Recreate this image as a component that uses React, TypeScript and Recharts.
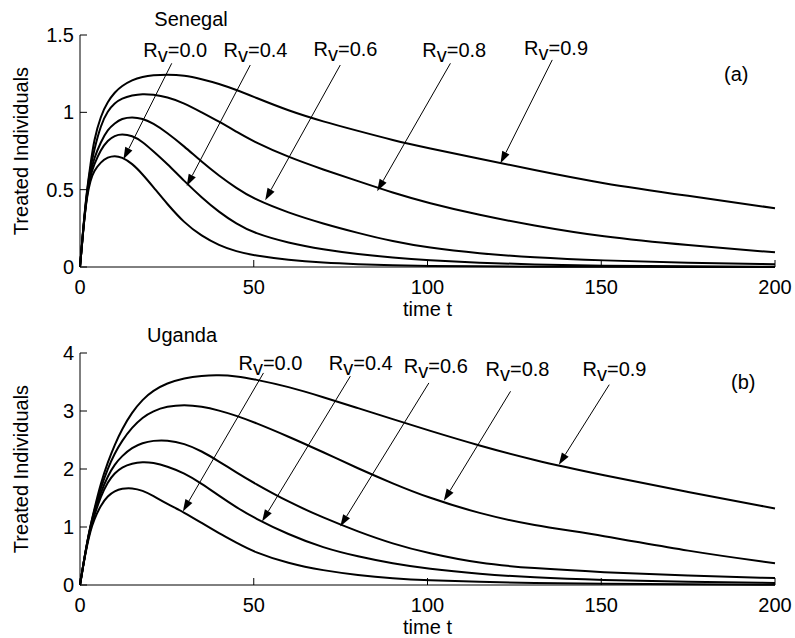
import React from "react";
import { LineChart, Line, XAxis, YAxis, ReferenceLine, ReferenceDot } from "recharts";

const FONT = '"Liberation Sans", Arial, Helvetica, sans-serif';

// time grid shared by every curve
const timeValues = [0, 1, 2, 3, 4, 6, 8, 10, 12, 15, 18, 21, 25, 30, 35, 40, 45, 50, 60, 70, 80, 90, 100, 115, 130, 150, 175, 200];

// Senegal (a)
const senegalRv00 = [0, 0.26, 0.46, 0.56, 0.62, 0.68, 0.71, 0.72, 0.71, 0.67, 0.6, 0.52, 0.41, 0.285, 0.2, 0.14, 0.1, 0.075, 0.045, 0.028, 0.018, 0.011, 0.007, 0.004, 0.002, 0.001, 0.0005, 0.0002];
const senegalRv04 = [0, 0.26, 0.47, 0.59, 0.66, 0.76, 0.82, 0.85, 0.86, 0.85, 0.81, 0.75, 0.67, 0.555, 0.45, 0.355, 0.28, 0.22, 0.155, 0.113, 0.083, 0.061, 0.044, 0.027, 0.016, 0.008, 0.004, 0.002];
const senegalRv06 = [0, 0.26, 0.48, 0.61, 0.7, 0.81, 0.89, 0.93, 0.96, 0.97, 0.96, 0.93, 0.87, 0.78, 0.68, 0.59, 0.51, 0.44, 0.35, 0.28, 0.22, 0.165, 0.125, 0.087, 0.062, 0.042, 0.027, 0.018];
const senegalRv08 = [0, 0.27, 0.49, 0.64, 0.75, 0.92, 1.01, 1.06, 1.09, 1.11, 1.12, 1.115, 1.1, 1.06, 1.0, 0.94, 0.875, 0.81, 0.71, 0.63, 0.555, 0.48, 0.415, 0.335, 0.27, 0.195, 0.14, 0.095];
const senegalRv09 = [0, 0.27, 0.5, 0.66, 0.82, 0.98, 1.07, 1.13, 1.17, 1.21, 1.23, 1.24, 1.245, 1.24, 1.215, 1.185, 1.145, 1.1, 1.01, 0.94, 0.88, 0.82, 0.77, 0.7, 0.63, 0.54, 0.46, 0.38];

// Uganda (b)
const ugandaRv00 = [0, 0.36, 0.68, 0.93, 1.12, 1.38, 1.54, 1.62, 1.665, 1.675, 1.63, 1.54, 1.4, 1.25, 1.07, 0.89, 0.73, 0.57, 0.37, 0.25, 0.17, 0.115, 0.08, 0.053, 0.035, 0.02, 0.01, 0.005];
const ugandaRv04 = [0, 0.37, 0.7, 0.97, 1.18, 1.53, 1.78, 1.93, 2.03, 2.1, 2.12, 2.11, 2.05, 1.93, 1.75, 1.54, 1.34, 1.16, 0.87, 0.64, 0.49, 0.37, 0.28, 0.19, 0.13, 0.085, 0.055, 0.035];
const ugandaRv06 = [0, 0.37, 0.71, 0.99, 1.22, 1.6, 1.88, 2.08, 2.22, 2.37, 2.45, 2.49, 2.5, 2.44, 2.31, 2.13, 1.94, 1.76, 1.43, 1.16, 0.92, 0.71, 0.55, 0.37, 0.29, 0.22, 0.16, 0.12];
const ugandaRv08 = [0, 0.37, 0.72, 1.01, 1.26, 1.68, 2.01, 2.27, 2.48, 2.72, 2.89, 3.0, 3.08, 3.11, 3.08, 3.01, 2.92, 2.81, 2.56, 2.29, 2.01, 1.75, 1.51, 1.23, 1.03, 0.86, 0.58, 0.375];
const ugandaRv09 = [0, 0.37, 0.72, 1.02, 1.28, 1.76, 2.12, 2.42, 2.68, 2.98, 3.2, 3.35, 3.48, 3.57, 3.61, 3.62, 3.6, 3.55, 3.42, 3.24, 3.05, 2.86, 2.67, 2.4, 2.16, 1.9, 1.6, 1.32];

const seriesKeys = ["rv00", "rv04", "rv06", "rv08", "rv09"];
const xTicks = [0, 50, 100, 150, 200];
const senegalYTicks = [0, 0.5, 1, 1.5];
const ugandaYTicks = [0, 1, 2, 3, 4];

// annotations in data units: text anchor, arrow tail, arrow head
const senegalArrows = [
  { rv: "0.0", label: [18.2, 1.355], tail: [26.4, 1.317], head: [12.5, 0.696] },
  { rv: "0.4", label: [41.3, 1.355], tail: [49.0, 1.306], head: [30.7, 0.523] },
  { rv: "0.6", label: [67.2, 1.365], tail: [74.9, 1.306], head: [53.3, 0.432] },
  { rv: "0.8", label: [98.5, 1.358], tail: [106.6, 1.317], head: [85.5, 0.49] },
  { rv: "0.9", label: [127.8, 1.371], tail: [135.9, 1.339], head: [121.0, 0.67] },
];
const ugandaArrows = [
  { rv: "0.0", label: [45.6, 3.714], tail: [52.8, 3.656], head: [29.6, 1.268] },
  { rv: "0.4", label: [71.6, 3.714], tail: [77.8, 3.6], head: [52.4, 1.095] },
  { rv: "0.6", label: [93.2, 3.656], tail: [100.4, 3.484], head: [74.9, 1.009] },
  { rv: "0.8", label: [116.7, 3.6], tail: [123.9, 3.34], head: [104.7, 1.451] },
  { rv: "0.9", label: [144.6, 3.6], tail: [152.3, 3.454], head: [137.8, 2.073] },
];

const buildRows = (cols: number[][]) =>
  timeValues.map((t, i) => {
    const row: any = { t };
    seriesKeys.forEach((k, j) => (row[k] = cols[j][i]));
    return row;
  });

const senegalData = buildRows([senegalRv00, senegalRv04, senegalRv06, senegalRv08, senegalRv09]);
const ugandaData = buildRows([ugandaRv00, ugandaRv04, ugandaRv06, ugandaRv08, ugandaRv09]);

const XTick = (props: any) => {
  const { x, y, payload } = props;
  return (
    <g>
      <line x1={x} y1={y} x2={x} y2={y - 7} stroke="#000" />
      <text x={x} y={y + 27} textAnchor="middle" fontFamily={FONT} fontSize={20} fill="#000">
        {payload.value}
      </text>
    </g>
  );
};

const YTick = (props: any) => {
  const { x, y, payload } = props;
  return (
    <g>
      <line x1={x} y1={y} x2={x + 7} y2={y} stroke="#000" />
      <text x={x - 6} y={y + 7} textAnchor="end" fontFamily={FONT} fontSize={20} fill="#000">
        {payload.value}
      </text>
    </g>
  );
};

const arrowShape = (p: any) => {
  const { x1, y1, x2, y2 } = p;
  const dx = x2 - x1;
  const dy = y2 - y1;
  const len = Math.hypot(dx, dy) || 1;
  const ux = dx / len;
  const uy = dy / len;
  const hl = 12;
  const hw = 4;
  const bx = x2 - ux * hl;
  const by = y2 - uy * hl;
  const pts = `${x2},${y2} ${bx - uy * hw},${by + ux * hw} ${bx + uy * hw},${by - ux * hw}`;
  return (
    <g>
      <line x1={x1} y1={y1} x2={bx} y2={by} stroke="#000" strokeWidth={1} />
      <polygon points={pts} fill="#000" />
    </g>
  );
};

const rvLabel = (rv: string) => (p: any) => (
  <text x={p.cx} y={p.cy} fontFamily={FONT} fontSize={20} fill="#000">
    R<tspan dy={5}>v</tspan>
    <tspan dy={-5}>={rv}</tspan>
  </text>
);

const yLabel = (props: any) => {
  const vb = props.viewBox || {};
  const cy = vb.y + vb.height / 2;
  const x = 28;
  return (
    <text x={x} y={cy} transform={`rotate(-90 ${x} ${cy})`} textAnchor="middle" fontFamily={FONT} fontSize={20} fill="#000">
      Treated Individuals
    </text>
  );
};

function Panel({ data, yMax, yTicks, arrows, topMargin, xAxisHeight, labelOffset }: any) {
  return (
    <LineChart width={795} height={319} data={data} margin={{ top: topMargin, right: 20, bottom: 0, left: 0 }}>
      <XAxis
        dataKey="t"
        type="number"
        domain={[0, 200]}
        ticks={xTicks}
        height={xAxisHeight}
        stroke="#000"
        tickLine={false}
        tickSize={0}
        tickMargin={0}
        tick={<XTick />}
        label={{ value: "time t", position: "insideBottom", offset: labelOffset, fill: "#000", fontSize: 20, fontFamily: FONT }}
      />
      <YAxis
        type="number"
        domain={[0, yMax]}
        ticks={yTicks}
        width={80}
        stroke="#000"
        tickLine={false}
        tickSize={0}
        tickMargin={0}
        tick={<YTick />}
        label={yLabel}
      />
      {seriesKeys.map((k) => (
        <Line key={k} type="basis" dataKey={k} stroke="#000" strokeWidth={2} dot={false} isAnimationActive={false} />
      ))}
      {arrows.map((a: any) => (
        <ReferenceLine
          key={"arr" + a.rv}
          segment={[
            { x: a.tail[0], y: a.tail[1] },
            { x: a.head[0], y: a.head[1] },
          ]}
          shape={arrowShape}
        />
      ))}
      {arrows.map((a: any) => (
        <ReferenceDot key={"lab" + a.rv} x={a.label[0]} y={a.label[1]} r={1} shape={rvLabel(a.rv)} />
      ))}
    </LineChart>
  );
}

export default function App() {
  return (
    <div style={{ position: "absolute", left: 0, top: 0, width: 795, height: 638, background: "#fff" }}>
      <div style={{ position: "absolute", left: 0, top: 0 }}>
        <Panel data={senegalData} yMax={1.5} yTicks={senegalYTicks} arrows={senegalArrows} topMargin={35} xAxisHeight={52} labelOffset={3} />
      </div>
      <div style={{ position: "absolute", left: 0, top: 319 }}>
        <Panel data={ugandaData} yMax={4} yTicks={ugandaYTicks} arrows={ugandaArrows} topMargin={34} xAxisHeight={53} labelOffset={4} />
      </div>
      <svg width={795} height={638} style={{ position: "absolute", left: 0, top: 0, pointerEvents: "none" }}>
        <text x={191} y={26} textAnchor="middle" fontFamily={FONT} fontSize={20} fill="#000">Senegal</text>
        <text x={182} y={342} textAnchor="middle" fontFamily={FONT} fontSize={20} fill="#000">Uganda</text>
        <text x={724} y={81} fontFamily={FONT} fontSize={20} fill="#000">(a)</text>
        <text x={731} y={389} fontFamily={FONT} fontSize={20} fill="#000">(b)</text>
      </svg>
    </div>
  );
}
